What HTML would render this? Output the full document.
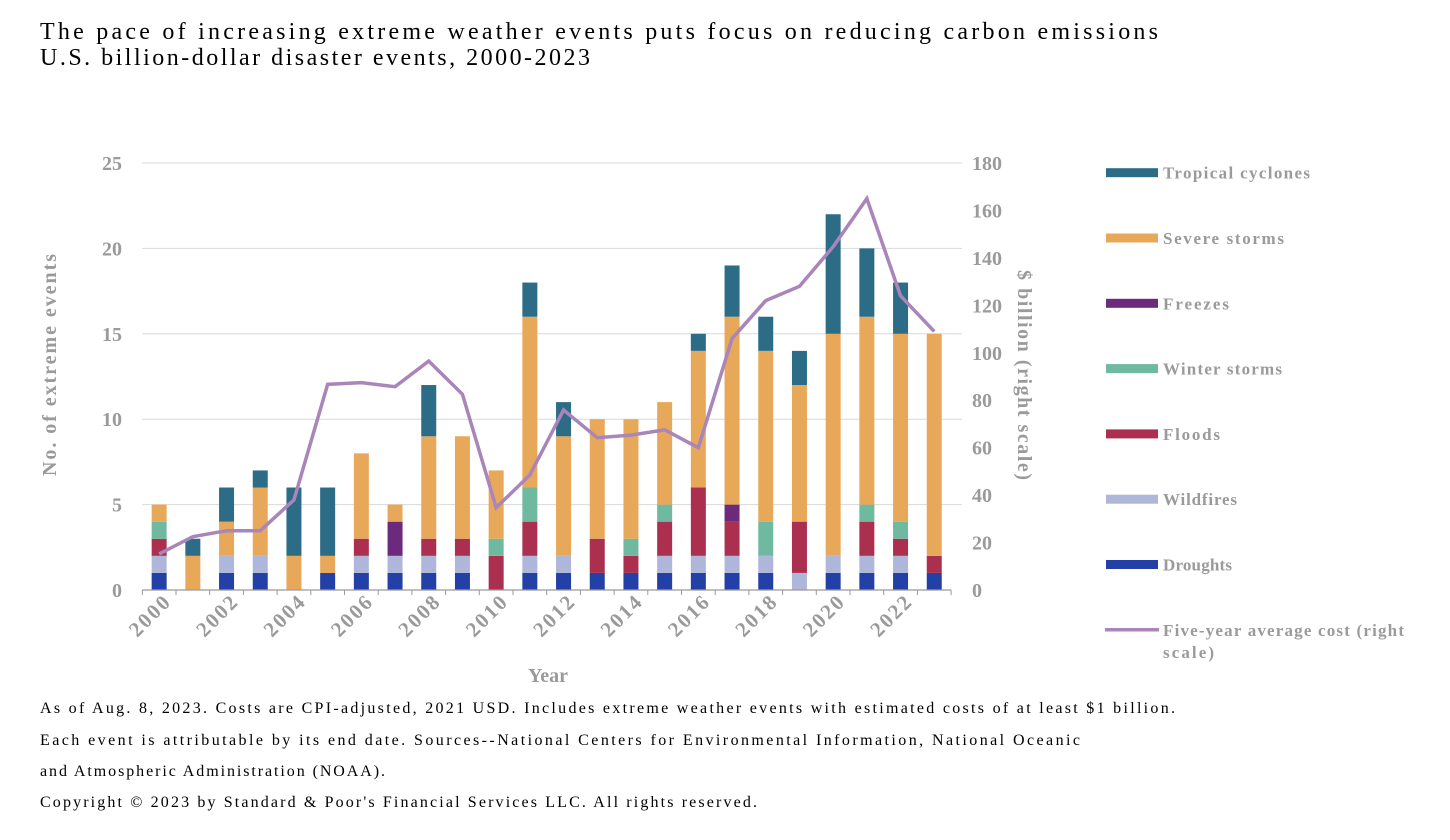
<!DOCTYPE html>
<html><head><meta charset="utf-8">
<style>
body{margin:0;background:#fff;width:1450px;height:840px;overflow:hidden;}
svg{display:block;}
.t{font-family:"Liberation Serif",serif;fill:#000;}
.ax{font-family:"Liberation Serif",serif;font-weight:bold;fill:#9a9a9a;}
</style></head>
<body>
<svg id="chart" width="1450" height="840">
<text class="t" x="40" y="39" font-size="24" textLength="1118" lengthAdjust="spacing">The pace of increasing extreme weather events puts focus on reducing carbon emissions</text>
<text class="t" x="40" y="65" font-size="24" textLength="550" lengthAdjust="spacing">U.S. billion-dollar disaster events, 2000-2023</text>
<g id="grid"></g><g id="bars"></g><g id="line"></g><g id="axes"></g><g id="legend"></g>
<text class="ax" x="0" y="0" font-size="20" text-anchor="middle" textLength="222" lengthAdjust="spacing" transform="translate(56,365) rotate(-90)">No. of extreme events</text>
<text class="ax" x="0" y="0" font-size="20" text-anchor="middle" textLength="210" lengthAdjust="spacing" transform="translate(1018,375) rotate(90)">$ billion (right scale)</text>
<text class="ax" x="548" y="682" font-size="20" text-anchor="middle">Year</text>
<g class="t" font-size="16">
<text x="40" y="713" textLength="1135" lengthAdjust="spacing">As of Aug. 8, 2023. Costs are CPI-adjusted, 2021 USD. Includes extreme weather events with estimated costs of at least $1 billion.</text>
<text x="40" y="745" textLength="1040" lengthAdjust="spacing">Each event is attributable by its end date. Sources--National Centers for Environmental Information, National Oceanic</text>
<text x="40" y="776" textLength="345" lengthAdjust="spacing">and Atmospheric Administration (NOAA).</text>
<text x="40" y="807" textLength="717" lengthAdjust="spacing">Copyright © 2023 by Standard &amp; Poor's Financial Services LLC. All rights reserved.</text>
</g>
</svg>
<script>
const years=[2000,2001,2002,2003,2004,2005,2006,2007,2008,2009,2010,2011,2012,2013,2014,2015,2016,2017,2018,2019,2020,2021,2022,2023];
const droughts=[1,0,1,1,0,1,1,1,1,1,0,1,1,1,1,1,1,1,1,0,1,1,1,1];
const wildfires=[1,0,1,1,0,0,1,1,1,1,0,1,1,0,0,1,1,1,1,1,1,1,1,0];
const floods=[1,0,0,0,0,0,1,0,1,1,2,2,0,2,1,2,4,2,0,3,0,2,1,1];
const winterStorms=[1,0,0,0,0,0,0,0,0,0,1,2,0,0,1,1,0,0,2,0,0,1,1,0];
const freezes=[0,0,0,0,0,0,0,2,0,0,0,0,0,0,0,0,0,1,0,0,0,0,0,0];
const severeStorms=[1,2,2,4,2,1,5,1,6,6,4,10,7,7,7,6,8,11,10,8,13,11,11,13];
const tropicalCyclones=[0,1,2,1,4,4,0,0,3,0,0,2,2,0,0,0,1,3,2,2,7,4,3,0];
const avgCost=[15.2,22.5,25,25,38,86.7,87.4,85.7,96.5,82.5,34.7,48.5,75.9,64.2,65.3,67.5,60,106,122,128,144.7,165,124,109];
const leftTicks=[0,5,10,15,20,25];
const rightTicks=[0,20,40,60,80,100,120,140,160,180];

const NS="http://www.w3.org/2000/svg";
const X0=142.3,STEP=33.7,BW=15,Y0=590,YT=163;
const xc=i=>X0+STEP*(i+0.5);
const yL=v=>Y0-(Y0-YT)*v/25;
const yR=v=>Y0-(Y0-YT)*v/180;
function mk(tag,attrs,parent){const e=document.createElementNS(NS,tag);for(const k in attrs)e.setAttribute(k,attrs[k]);parent.appendChild(e);return e;}
const grid=document.getElementById('grid'),bars=document.getElementById('bars'),line=document.getElementById('line'),axes=document.getElementById('axes'),legend=document.getElementById('legend');

leftTicks.forEach(t=>{
  if(t>0){const g=mk('line',{x1:X0,x2:962,y1:yL(t),y2:yL(t),stroke:'#d9d9d9','stroke-width':1},grid);
  
  }
  const tx=mk('text',{x:122,y:yL(t)+7,'text-anchor':'end','font-size':20,class:'ax'},axes);tx.textContent=t;
  
  
});
rightTicks.forEach(t=>{
  const tx=mk('text',{x:972,y:yR(t)+7,'font-size':20,class:'ax'},axes);tx.textContent=t;
  
  
});
const series=[
 ['droughts',droughts,'#2240a5','Droughts'],
 ['wildfires',wildfires,'#aeb6da','Wildfires'],
 ['floods',floods,'#ab3050','Floods'],
 ['winter-storms',winterStorms,'#6fb9a0','Winter storms'],
 ['freezes',freezes,'#6b2a7c','Freezes'],
 ['severe-storms',severeStorms,'#e8a85a','Severe storms'],
 ['tropical-cyclones',tropicalCyclones,'#2c6c86','Tropical cyclones']];
const legLen={'droughts':69,'wildfires':74,'floods':57,'winter-storms':119,'freezes':66,'severe-storms':121,'tropical-cyclones':147};
years.forEach((y,i)=>{
  let acc=0;
  series.forEach(s=>{
    const v=s[1][i]; if(!v) return;
    const r=mk('rect',{x:xc(i)-BW/2,y:yL(acc+v),width:BW,height:yL(acc)-yL(acc+v),fill:s[2]},bars);
    
    
    acc+=v;
  });
});
const al=mk('line',{x1:X0,x2:X0+STEP*24,y1:Y0,y2:Y0,stroke:'#9a9a9a','stroke-width':1.2},axes);


for(let i=0;i<=24;i++){mk('line',{x1:X0+STEP*i,x2:X0+STEP*i,y1:Y0,y2:Y0+5,stroke:'#9a9a9a','stroke-width':1},axes);}
years.forEach((y,i)=>{
  if(i%2) return;
  const tx=mk('text',{x:0,y:0,'text-anchor':'end','font-size':21,textLength:48,lengthAdjust:'spacing',class:'ax',transform:`translate(${xc(i)+12},${Y0+14}) rotate(-45)`},axes);tx.textContent=y;
  
  
});
const pl=mk('polyline',{points:avgCost.map((v,i)=>xc(i)+','+yR(v)).join(' '),fill:'none',stroke:'#a985ba','stroke-width':3.5,'stroke-linejoin':'miter'},line);



const legItems=series.slice().reverse();
legItems.forEach((s,k)=>{
  const cy=172.7+k*65.3;
  const r=mk('rect',{x:1106,y:cy-4.5,width:52,height:9,fill:s[2]},legend);
  
  
  const t=mk('text',{x:1163,y:cy+6,'font-size':17,textLength:legLen[s[0]],lengthAdjust:'spacing',class:'ax'},legend);t.textContent=s[3];
  
  
});
const cy=172.7+7*65.3;
const ll=mk('line',{x1:1105,x2:1159,y1:cy,y2:cy,stroke:'#a985ba','stroke-width':3.5},legend);


const lt=mk('text',{x:1163,y:cy+6,'font-size':17,textLength:241,lengthAdjust:'spacing',class:'ax'},legend);lt.textContent='Five-year average cost (right';


const lt2=mk('text',{x:1163,y:cy+28,'font-size':17,textLength:51,lengthAdjust:'spacing',class:'ax'},legend);lt2.textContent='scale)';


</script>
</body></html>
